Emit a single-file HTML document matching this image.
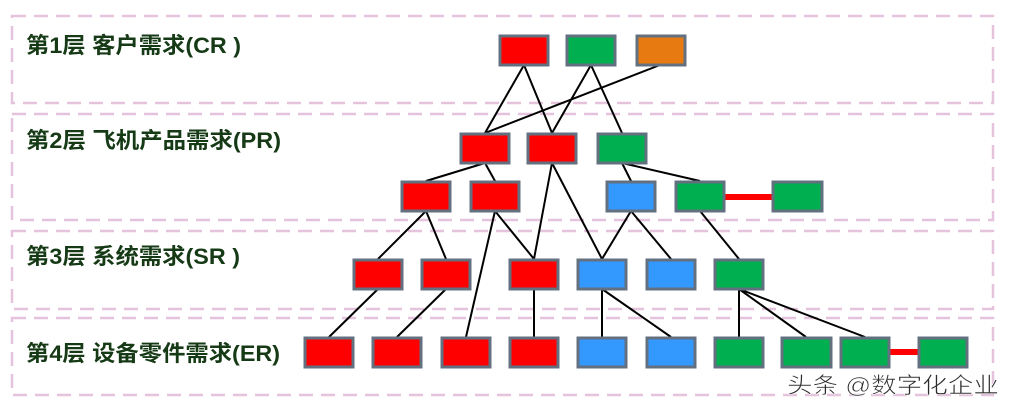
<!DOCTYPE html>
<html><head><meta charset="utf-8"><style>
html,body{margin:0;padding:0;background:#fff;}
svg{display:block;}
.lbl{font-family:"Liberation Sans","Noto Sans CJK SC",sans-serif;font-weight:bold;font-size:22px;fill:#163a16;}
</style></head><body>
<svg width="1014" height="412" viewBox="0 0 1014 412" xmlns="http://www.w3.org/2000/svg">
<g fill="none" stroke="#e6c3dc" stroke-width="2.5" stroke-dasharray="14,8">
<rect x="12" y="16" width="981" height="87"/>
<rect x="12" y="114" width="981" height="106"/>
<rect x="12" y="231" width="981" height="78"/>
<rect x="12" y="318" width="981" height="77"/>
</g>
<text class="lbl" x="26" y="53" textLength="215" lengthAdjust="spacingAndGlyphs">第1层 客户需求(CR )</text>
<text class="lbl" x="26" y="148" textLength="255" lengthAdjust="spacingAndGlyphs">第2层 飞机产品需求(PR)</text>
<text class="lbl" x="26" y="264" textLength="214" lengthAdjust="spacingAndGlyphs">第3层 系统需求(SR )</text>
<text class="lbl" x="26" y="361" textLength="254" lengthAdjust="spacingAndGlyphs">第4层 设备零件需求(ER)</text>
<g stroke="#000" stroke-width="2">
<line x1="524" y1="65" x2="485" y2="133"/>
<line x1="524" y1="65" x2="552" y2="133"/>
<line x1="591" y1="65" x2="552" y2="133"/>
<line x1="591" y1="65" x2="622" y2="133"/>
<line x1="660" y1="65" x2="485" y2="133"/>
<line x1="485" y1="163" x2="426" y2="181"/>
<line x1="485" y1="163" x2="495" y2="181"/>
<line x1="552" y1="163" x2="534" y2="259"/>
<line x1="552" y1="163" x2="602" y2="259"/>
<line x1="622" y1="163" x2="631" y2="181"/>
<line x1="622" y1="163" x2="700" y2="181"/>
<line x1="426" y1="211" x2="378" y2="259"/>
<line x1="426" y1="211" x2="446" y2="259"/>
<line x1="495" y1="211" x2="534" y2="259"/>
<line x1="495" y1="211" x2="466" y2="337"/>
<line x1="631" y1="211" x2="602" y2="259"/>
<line x1="631" y1="211" x2="671" y2="259"/>
<line x1="700" y1="211" x2="739" y2="259"/>
<line x1="378" y1="289" x2="329" y2="337"/>
<line x1="446" y1="289" x2="397" y2="337"/>
<line x1="534" y1="289" x2="534" y2="337"/>
<line x1="602" y1="289" x2="602" y2="337"/>
<line x1="602" y1="289" x2="671" y2="337"/>
<line x1="739" y1="289" x2="739" y2="337"/>
<line x1="739" y1="289" x2="806" y2="337"/>
<line x1="739" y1="289" x2="865" y2="337"/>
</g>
<g stroke="#f00" stroke-width="6">
<line x1="725" y1="197" x2="773" y2="197"/>
<line x1="890" y1="352" x2="918" y2="352"/>
</g>
<g stroke="#637080" stroke-width="3">
<rect x="500" y="36" width="48" height="29" fill="#f00"/>
<rect x="567" y="36" width="48" height="29" fill="#00b050"/>
<rect x="637" y="36" width="48" height="29" fill="#e87a12"/>
<rect x="461" y="134" width="48" height="29" fill="#f00"/>
<rect x="528" y="134" width="48" height="29" fill="#f00"/>
<rect x="598" y="134" width="48" height="29" fill="#00b050"/>
<rect x="402" y="182" width="48" height="29" fill="#f00"/>
<rect x="471" y="182" width="48" height="29" fill="#f00"/>
<rect x="607" y="182" width="48" height="29" fill="#3399ff"/>
<rect x="676" y="182" width="48" height="29" fill="#00b050"/>
<rect x="773" y="182" width="49" height="29" fill="#00b050"/>
<rect x="354" y="260" width="48" height="29" fill="#f00"/>
<rect x="422" y="260" width="48" height="29" fill="#f00"/>
<rect x="510" y="260" width="48" height="29" fill="#f00"/>
<rect x="578" y="260" width="48" height="29" fill="#3399ff"/>
<rect x="647" y="260" width="48" height="29" fill="#3399ff"/>
<rect x="715" y="260" width="48" height="29" fill="#00b050"/>
<rect x="305" y="338" width="48" height="29" fill="#f00"/>
<rect x="373" y="338" width="48" height="29" fill="#f00"/>
<rect x="442" y="338" width="48" height="29" fill="#f00"/>
<rect x="510" y="338" width="48" height="29" fill="#f00"/>
<rect x="578" y="338" width="48" height="29" fill="#3399ff"/>
<rect x="647" y="338" width="48" height="29" fill="#3399ff"/>
<rect x="715" y="338" width="48" height="29" fill="#00b050"/>
<rect x="782" y="338" width="49" height="29" fill="#00b050"/>
<rect x="841" y="338" width="48" height="29" fill="#00b050"/>
<rect x="919" y="338" width="48" height="29" fill="#00b050"/>
</g>
<text x="787" y="393" font-family="Liberation Sans,'Noto Sans CJK SC',sans-serif" font-size="22" fill="#2a2a2a" stroke="#fff" stroke-width="0.6" textLength="212" lengthAdjust="spacingAndGlyphs">头条 @数字化企业</text>
</svg>
</body></html>
